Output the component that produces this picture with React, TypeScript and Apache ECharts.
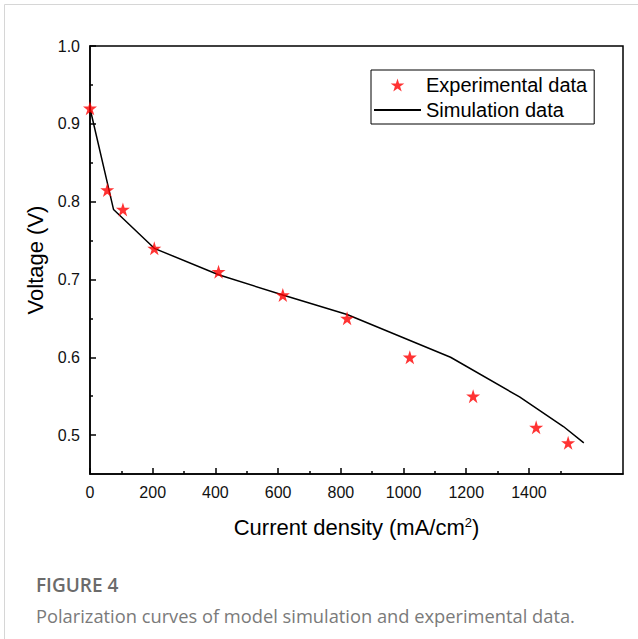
import React, { useEffect, useRef } from "react";
import * as echarts from "echarts";

const expCurrent = [0, 55, 105, 205, 410, 615, 820, 1020, 1222, 1423, 1525];
const expVoltage = [0.92, 0.815, 0.79, 0.74, 0.71, 0.68, 0.65, 0.6, 0.55, 0.51, 0.49];

const simCurrent = [0, 75, 205, 410, 615, 820, 1150, 1370, 1510, 1575];
const simVoltage = [0.92, 0.79, 0.74, 0.706, 0.68, 0.655, 0.6, 0.549, 0.511, 0.49];

const xMajorTicks = [0, 200, 400, 600, 800, 1000, 1200, 1400, 1600];
const xMinorTicks = [100, 300, 500, 700, 900, 1100, 1300, 1500];
const yMajorTicks = [0.5, 0.6, 0.7, 0.8, 0.9, 1.0];
const yMinorTicks = [0.55, 0.65, 0.75, 0.85, 0.95];

const seriesNames = ["Experimental data", "Simulation data"];
const captionTitle = "FIGURE 4";
const captionText = "Polarization curves of model simulation and experimental data.";

const STAR =
  "path://M50,0 L61.2,34.5 L97.6,34.5 L68.2,55.9 L79.4,90.5 L50,69.1 L20.6,90.5 L31.8,55.9 L2.4,34.5 L38.8,34.5 Z";

const FONT = "'Liberation Sans', Arial, sans-serif";

export default function App() {
  const ref = useRef<HTMLDivElement>(null);
  useEffect(() => {
    if (!ref.current) return;
    const chart = echarts.init(ref.current, undefined, { renderer: "svg" });
    const tickCommon = { lineStyle: { color: "#000", width: 1.5 } };
    chart.setOption({
      animation: false,
      backgroundColor: "#fff",
      grid: {
        left: 90,
        right: 15,
        top: 46,
        bottom: 165,
        show: true,
        borderColor: "#000",
        borderWidth: 1.5,
        backgroundColor: "transparent",
      },
      legend: {
        left: 371,
        top: 70,
        orient: "vertical",
        borderColor: "#000",
        borderWidth: 1,
        padding: [5, 7, 4, 2],
        itemWidth: 47,
        itemHeight: 13,
        itemGap: 5,
        textStyle: { fontFamily: FONT, fontSize: 20, color: "#000" },
        data: [
          { name: seriesNames[0], icon: STAR },
          { name: seriesNames[1], itemStyle: { opacity: 0 } },
        ],
      },
      xAxis: [
        {
          type: "value",
          min: 0,
          max: 1700,
          interval: 200,
          name: "Current density (mA/cm{sup|2})",
          nameLocation: "middle",
          nameGap: 42,
          nameTextStyle: {
            fontFamily: FONT,
            fontSize: 22,
            color: "#000",
            rich: {
              sup: { fontFamily: FONT, fontSize: 13, color: "#000", verticalAlign: "top", padding: [0, 0, 10, 0] },
            },
          },
          axisLine: { show: true, lineStyle: { color: "#000", width: 1.5 } },
          axisTick: { show: true, inside: true, length: 6, customValues: xMajorTicks, ...tickCommon },
          axisLabel: {
            customValues: xMajorTicks,
            margin: 10,
            fontFamily: FONT,
            fontSize: 16,
            color: "#111",
            showMaxLabel: false,
            formatter: (v: number) => String(v),
          },
          splitLine: { show: false },
        },
        {
          type: "value",
          position: "bottom",
          min: 0,
          max: 1700,
          interval: 100,
          axisLine: { show: false },
          axisTick: { show: true, inside: true, length: 3, customValues: xMinorTicks, ...tickCommon },
          axisLabel: { show: false },
          splitLine: { show: false },
        },
      ],
      yAxis: [
        {
          type: "value",
          min: 0.45,
          max: 1.0,
          interval: 0.05,
          name: "Voltage (V)",
          nameLocation: "middle",
          nameGap: 37,
          nameTextStyle: { fontFamily: FONT, fontSize: 22, color: "#000" },
          axisLine: { show: true, lineStyle: { color: "#000", width: 1.5 } },
          axisTick: { show: true, inside: true, length: 6, customValues: yMajorTicks, ...tickCommon },
          axisLabel: {
            customValues: yMajorTicks,
            margin: 10,
            fontFamily: FONT,
            fontSize: 16,
            color: "#111",
            formatter: (v: number) => v.toFixed(1),
          },
          splitLine: { show: false },
        },
        {
          type: "value",
          position: "left",
          min: 0.45,
          max: 1.0,
          interval: 0.05,
          axisLine: { show: false },
          axisTick: { show: true, inside: true, length: 3, customValues: yMinorTicks, ...tickCommon },
          axisLabel: { show: false },
          splitLine: { show: false },
        },
      ],
      series: [
        {
          name: seriesNames[0],
          type: "scatter",
          symbol: STAR,
          symbolSize: 14,
          itemStyle: { color: "#ff0000" },
          data: expCurrent.map((x, i) => [x, expVoltage[i]]),
          z: 3,
        },
        {
          name: seriesNames[1],
          type: "line",
          symbol: "none",
          showSymbol: false,
          itemStyle: { color: "#000" },
          lineStyle: { color: "#000", width: 1.5 },
          data: simCurrent.map((x, i) => [x, simVoltage[i]]),
          z: 2,
        },
      ],
      graphic: [
        {
          type: "rect",
          shape: { x: 4.5, y: 4.5, width: 700, height: 700 },
          style: { fill: "none", stroke: "#d6d6d6", lineWidth: 1 },
          silent: true,
        },
        {
          type: "text",
          left: 36,
          top: 575,
          style: {
            text: captionTitle,
            font: "600 19px 'Open Sans', sans-serif",
            fill: "#6b6b6b",
          },
        },
        {
          type: "text",
          left: 36,
          top: 606,
          style: {
            text: captionText,
            font: "400 18.3px 'Open Sans', sans-serif",
            fill: "#7a7a7a",
          },
        },
      ],
    });
    return () => chart.dispose();
  }, []);
  return (
    <div
      ref={ref}
      style={{ position: "absolute", left: 0, top: 0, width: 638, height: 639 }}
    />
  );
}
